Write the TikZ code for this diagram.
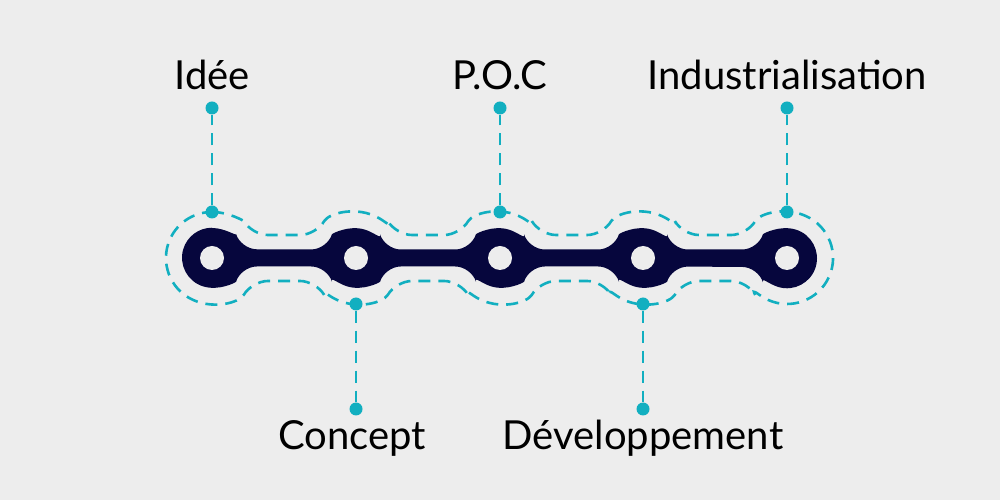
\documentclass[tikz,border=0pt]{standalone}
\usepackage{fontspec}
\setmainfont{Lato}
\definecolor{bg}{HTML}{EDEDED}
\definecolor{navy}{HTML}{06063D}
\definecolor{cy}{HTML}{12AFC0}
\begin{document}
\begin{tikzpicture}[x=1pt,y=1pt,
  dot/.style={circle,fill=cy,inner sep=0,minimum size=13},
  cydash/.style={cy,line width=2.6,dash pattern=on 12 off 8},
  lbl/.style={font=\fontsize{40}{44}\selectfont,text=black,inner sep=0}]
\fill[bg] (0,0) rectangle (1000,500);
\useasboundingbox (0,0) rectangle (1000,500);
% dark chain
\fill[navy,rounded corners=16] (212,272) arc(90:17:30) -- (356-28.7,250.5) arc(163:17:30) -- (500-28.7,250.5) arc(163:17:30) -- (643-28.7,250.5) arc(163:17:30) -- (787-28.7,250.5) arc(163:-163:30) -- (643+28.7,233.5) arc(-17:-163:30) -- (500+28.7,233.5) arc(-17:-163:30) -- (356+28.7,233.5) arc(-17:-163:30) -- (212+28.7,233.5) arc(-17:-270:30);
\foreach \x in {212,356,500,643,787} \fill[bg] (\x,242) circle (12);
% dashed outline
\draw[cydash,rounded corners=16] (212,288) arc(90:30:46) -- (356-39.8,265) arc(150:30:46) -- (500-39.8,265) arc(150:30:46) -- (643-39.8,265) arc(150:30:46) -- (787-39.8,265) arc(150:-150:46) -- (643+39.8,219) arc(-30:-150:46) -- (500+39.8,219) arc(-30:-150:46) -- (356+39.8,219) arc(-30:-150:46) -- (212+39.8,219) arc(-30:-270:46);
% connectors
\node[dot] (a1) at (212,288) {}; \node[dot] (a2) at (212,392) {};
\node[dot] (c1) at (500,288) {}; \node[dot] (c2) at (500,392) {};
\node[dot] (e1) at (787,288) {}; \node[dot] (e2) at (787,392) {};
\node[dot] (b1) at (356,196) {}; \node[dot] (b2) at (356,91) {};
\node[dot] (d1) at (643,196) {}; \node[dot] (d2) at (643,91) {};
\foreach \p/\q in {a1/a2,c1/c2,e1/e2,b1/b2,d1/d2} \draw[cydash] (\p) -- (\q);
\node[lbl] (la) at (212,425) {Idée};
\node[lbl] (lc) at (500,425) {P.O.C};
\node[lbl] (le) at (787,425) {Industrialisation};
\node[lbl] (lb) at (352,62) {Concept};
\node[lbl] (ld) at (643,62) {Développement};
\end{tikzpicture}
\end{document}
